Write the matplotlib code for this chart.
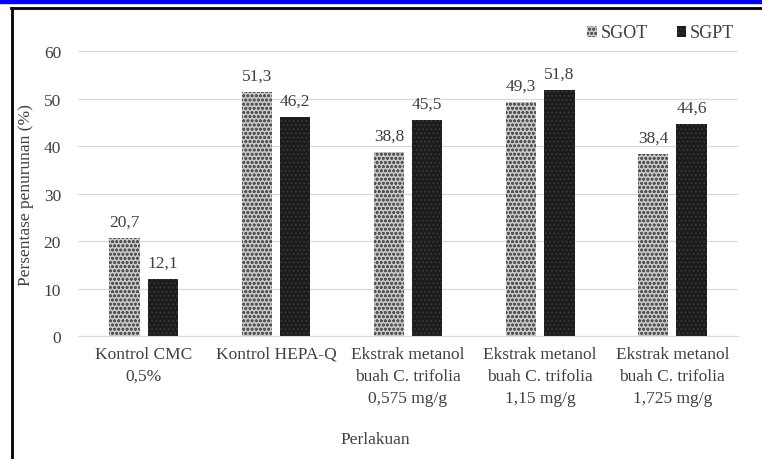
import numpy as np
import matplotlib.pyplot as plt
from matplotlib.patches import Rectangle
from matplotlib.lines import Line2D

plt.rcParams['font.family'] = ['Liberation Serif', 'DejaVu Serif']
plt.rcParams['hatch.linewidth'] = 0.8

categories = ['Kontrol CMC\n0,5%', 'Kontrol HEPA-Q',
              'Ekstrak metanol\nbuah C. trifolia\n0,575 mg/g',
              'Ekstrak metanol\nbuah C. trifolia\n1,15 mg/g',
              'Ekstrak metanol\nbuah C. trifolia\n1,725 mg/g']
sgot = [20.7, 51.3, 38.8, 49.3, 38.4]
sgpt = [12.1, 46.2, 45.5, 51.8, 44.6]
yticks = [0, 10, 20, 30, 40, 50, 60]

text_col = '#404040'
fs = 12.5

fig = plt.figure(figsize=(7.62, 4.6), dpi=100)
ax = fig.add_axes([0.102, 0.267, 0.867, 0.62])

x = np.arange(len(categories))
w = 0.23
off = 0.145
b1 = ax.bar(x - off, sgot, w, color='#c8c8c8', edgecolor='#555555',
            hatch='oooo', linewidth=0, label='SGOT')
b2 = ax.bar(x + off, sgpt, w, color='#1c1c1c', edgecolor='#3a3a3a',
            hatch='....', linewidth=0, label='SGPT')

for bars, vals in ((b1, sgot), (b2, sgpt)):
    for r, v in zip(bars, vals):
        ax.annotate(('%.1f' % v).replace('.', ','),
                    (r.get_x() + r.get_width() / 2, v),
                    xytext=(0, 6), textcoords='offset points',
                    ha='center', va='bottom', fontsize=fs, color=text_col)

ax.set_xlim(-0.5, len(categories) - 0.5)
ax.set_ylim(0, 60)
ax.set_yticks(yticks)
ax.set_xticks(x)
ax.set_xticklabels(categories, fontsize=fs, color=text_col, linespacing=1.5)
ax.tick_params(axis='y', labelsize=fs, labelcolor=text_col, length=0, pad=12)
ax.tick_params(axis='x', length=0, pad=7)
ax.grid(axis='y', color='#d9d9d9', linewidth=0.9)
ax.set_axisbelow(True)
for s in ['top', 'right', 'left']:
    ax.spines[s].set_visible(False)
ax.spines['bottom'].set_color('#d9d9d9')

ax.set_ylabel('Persentase penurunan (%)', fontsize=fs, color=text_col, labelpad=7)
fig.text(0.492, 0.043, 'Perlakuan', ha='center', va='center',
         fontsize=fs, color=text_col)

ax.legend(loc='upper right', bbox_to_anchor=(0.985, 0.98),
          bbox_transform=fig.transFigure, ncol=2, frameon=False,
          fontsize=13, handlelength=0.55, handleheight=0.55,
          handletextpad=0.2, columnspacing=1.6, labelcolor=text_col)

# screenshot frame: blue strip on top, black border top and left
fig.patches.append(Rectangle((0, 0.991), 1, 0.009, transform=fig.transFigure,
                             color='#0000ff', zorder=10))
fig.lines.append(Line2D([0.014, 1], [0.981, 0.981], transform=fig.transFigure,
                        color='black', linewidth=2))
fig.lines.append(Line2D([0.0155, 0.0155], [0, 0.981], transform=fig.transFigure,
                        color='black', linewidth=2))

fig.savefig('out.png', dpi=100)
